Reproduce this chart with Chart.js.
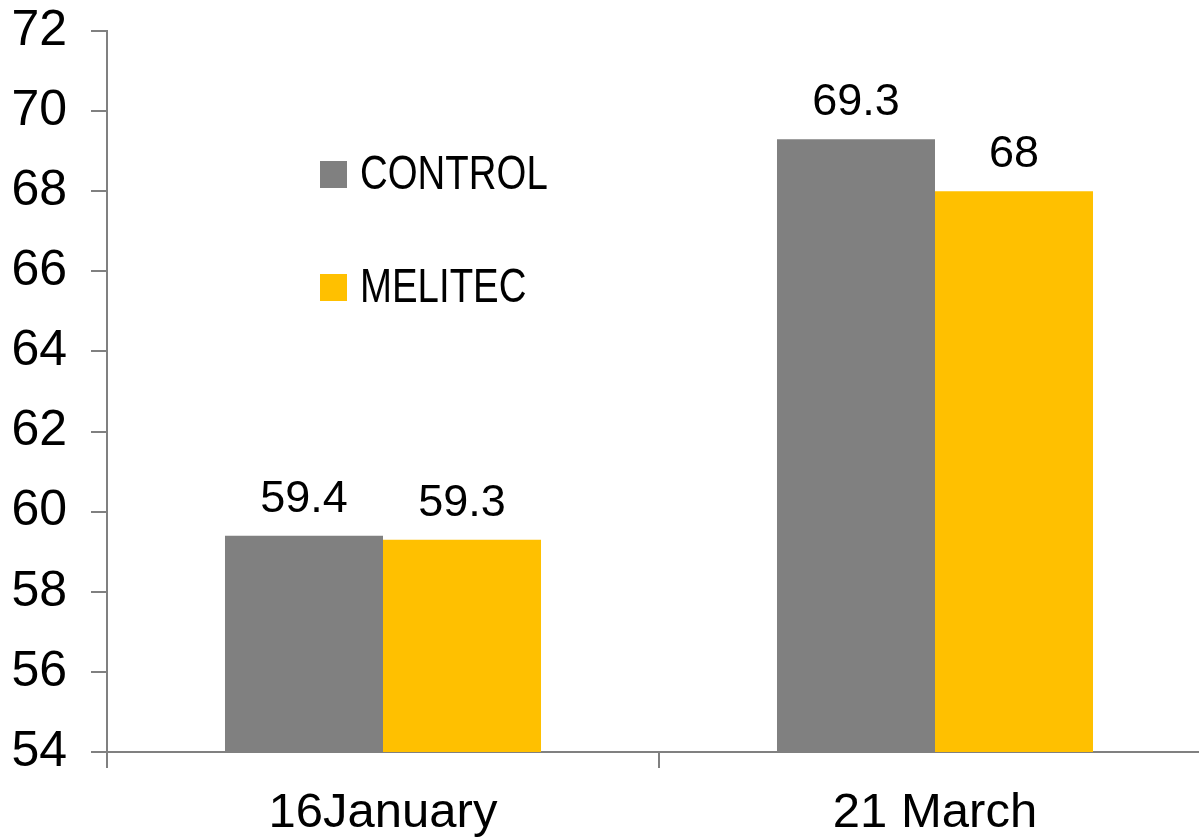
<!DOCTYPE html>
<html>
<head>
<meta charset="utf-8">
<script src="https://cdn.jsdelivr.net/npm/chart.js@4"></script>
<style>
  html, body { margin: 0; padding: 0; background: #fff; overflow: hidden; }
  canvas { display: block; }
</style>
</head>
<body>
<canvas id="chart" width="1212" height="839"></canvas>
<script>
// values
const categories = ["16January", "21 March"];
const seriesNames = ["CONTROL", "MELITEC"];
const controlValues = [59.4, 69.3];
const melitecValues = [59.3, 68];
const seriesColors = ["#808080", "#FFC000"];
const yMin = 54;
const yMax = 72;
const yStep = 2;

const axisColor = "#808080";
const fontFamily = "'Liberation Sans', Arial, sans-serif";

// value labels above each bar
const valueLabels = {
  id: "valueLabels",
  afterDatasetsDraw(chart) {
    const ctx = chart.ctx;
    ctx.save();
    ctx.font = `45px ${fontFamily}`;
    ctx.fillStyle = "#000";
    ctx.textAlign = "center";
    ctx.textBaseline = "alphabetic";
    chart.data.datasets.forEach((ds, i) => {
      chart.getDatasetMeta(i).data.forEach((bar, j) => {
        ctx.fillText(String(ds.data[j]), bar.x, bar.y - 24);
      });
    });
    ctx.restore();
  },
};

// legend drawn inside the plot, stacked vertically, with condensed text
const insideLegend = {
  id: "insideLegend",
  afterDraw(chart) {
    const ctx = chart.ctx;
    const area = chart.chartArea;
    const x = area.left + 213;
    ctx.save();
    ctx.textBaseline = "middle";
    ctx.font = `48px ${fontFamily}`;
    chart.data.datasets.forEach((ds, i) => {
      const top = area.top + 130 + i * 113;
      ctx.fillStyle = ds.backgroundColor;
      ctx.fillRect(x, top, 27, 27);
      ctx.fillStyle = "#000";
      ctx.save();
      ctx.translate(x + 40, top + 15);
      ctx.scale(0.8, 1);
      ctx.fillText(ds.label, 0, 0);
      ctx.restore();
    });
    ctx.restore();
  },
};

new Chart(document.getElementById("chart").getContext("2d"), {
  type: "bar",
  data: {
    labels: categories,
    datasets: [
      { label: seriesNames[0], data: controlValues, backgroundColor: seriesColors[0] },
      { label: seriesNames[1], data: melitecValues, backgroundColor: seriesColors[1] },
    ],
  },
  options: {
    responsive: false,
    animation: false,
    devicePixelRatio: 1,
    layout: { padding: { top: 31, right: 1, left: 0, bottom: 0 } },
    datasets: { bar: { barPercentage: 1, categoryPercentage: 0.5725 } },
    plugins: {
      legend: { display: false },
      tooltip: { enabled: false },
    },
    scales: {
      x: {
        offset: true,
        grid: {
          offset: true,
          drawOnChartArea: false,
          drawTicks: true,
          tickLength: 16,
          color: axisColor,
          lineWidth: 2,
        },
        border: { color: axisColor, width: 2 },
        ticks: { color: "#000", font: { size: 49, family: fontFamily }, padding: 16 },
        afterFit: (scale) => {
          scale.height = 87;
          scale.paddingLeft = 0;
          scale.paddingRight = 0;
        },
      },
      y: {
        min: yMin,
        max: yMax,
        grid: {
          drawOnChartArea: false,
          tickLength: 16,
          color: axisColor,
          lineWidth: 2,
        },
        border: { color: axisColor, width: 2 },
        ticks: {
          stepSize: yStep,
          color: "#000",
          font: { size: 50, family: fontFamily },
          padding: 24,
        },
        afterFit: (scale) => {
          scale.width = 107;
          scale.paddingTop = 0;
          scale.paddingBottom = 0;
        },
      },
    },
  },
  plugins: [valueLabels, insideLegend],
});
</script>
</body>
</html>
